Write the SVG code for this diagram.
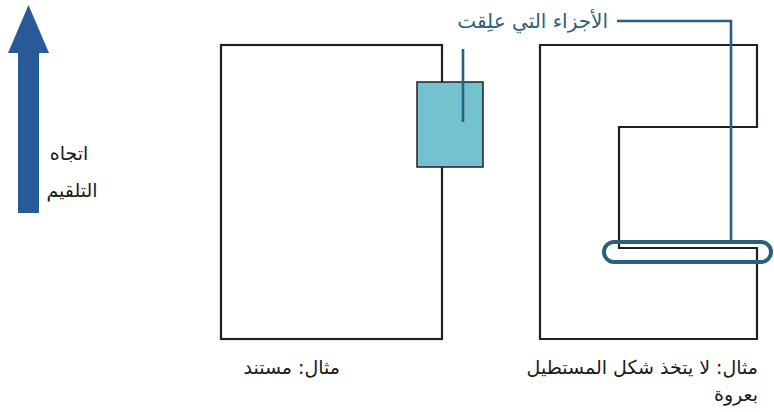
<svg xmlns="http://www.w3.org/2000/svg" width="774" height="412" viewBox="0 0 774 412">
<style>
.doc{fill:#fff;stroke:#231f20;stroke-width:2.2}
.lead{fill:none;stroke:#2b5f7e;stroke-width:2.6}
.t{font-family:"DejaVu Sans","Liberation Sans",sans-serif;font-size:19px;fill:#1a1a1a}
.lbl{font-family:"DejaVu Sans","Liberation Sans",sans-serif;font-size:20px;fill:#2b6080}
</style>
<rect width="774" height="412" fill="#fff"/>
<g id="feed-arrow">
<polygon points="18,213 39,213 39,53 49,53 28.5,5 8,53 18,53" fill="#275a97"/>
<text class="t" x="69" y="160" text-anchor="middle" font-size="18">اتجاه</text>
<text class="t" x="72" y="197" text-anchor="middle" font-size="18">التلقيم</text>
</g>
<g id="doc-left">
<rect class="doc" x="221" y="45" width="221" height="294"/>
<rect x="417" y="82" width="66" height="85" fill="#74c2cf" stroke="#231f20" stroke-width="1.5"/>
<text class="t" x="340" y="374" text-anchor="end">مثال: مستند</text>
</g>
<g id="doc-right">
<polygon class="doc" points="540,45 757,45 757,127 619,127 619,248 757,248 757,339 540,339"/>
<text class="t" x="758" y="374" text-anchor="end">مثال: لا يتخذ شكل المستطيل</text>
<text class="t" x="758" y="401" text-anchor="end">بعروة</text>
</g>
<g id="label">
<text class="lbl" x="608" y="28" text-anchor="end">الأجزاء التي علِقت</text>
</g>
<g id="connectors">
<line class="lead" x1="463" y1="49" x2="463" y2="122"/>
<polyline class="lead" points="617,21 731,21 731,241"/>
<rect x="604" y="242" width="167" height="20" rx="10" fill="none" stroke="#2b5f7e" stroke-width="4"/>
</g>
</svg>
